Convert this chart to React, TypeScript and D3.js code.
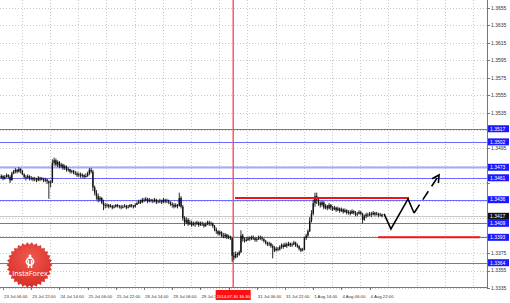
import React from "react";
import * as d3 from "d3";

// Prices in pips above 1.3300 (H1 bars starting 23 Jul 04:00)
const firstOpen = 162;
const closes = [
  161,163,160,162,164,162,158,166,168,170,
  168,171,169,165,162,161,163,160,161,159,
  160,158,161,159,160,158,159,157,155,156,
  178,181,176,179,174,176,172,174,170,171,
  168,169,167,166,164,165,163,164,162,163,
  166,170,168,150,144,140,136,138,133,130,
  129,130,128,129,127,128,130,129,128,127,
  128,129,127,128,130,129,128,130,132,134,
  133,136,135,137,134,136,135,134,136,133,
  134,135,133,136,134,135,133,131,130,128,
  130,129,138,128,115,110,113,108,110,107,
  109,108,110,107,109,108,106,108,110,108,
  109,106,102,100,97,99,95,94,96,93,
  94,92,72,70,74,73,76,95,91,89,
  90,92,91,93,92,90,91,93,92,91,
  89,87,85,86,83,81,78,80,79,82,
  84,82,85,83,86,84,85,87,84,83,
  80,78,79,92,95,100,112,120,132,140,
  136,132,130,133,127,129,126,130,127,125,
  127,124,126,123,125,122,124,121,122,120,
  123,121,119,120,122,120,113,117,119,118,
  120,119,121,119,120,118,119,117,
];
const highs = [
  164,165,164,164,166,165,164,168,170,172,
  171,173,172,170,166,164,165,164,163,162,
  162,161,163,162,162,161,161,160,158,158,
  182,184,183,181,180,178,177,176,175,173,
  171,170,170,169,168,167,167,166,165,166,
  168,172,172,170,152,147,143,140,139,136,
  132,132,131,131,130,130,131,131,130,130,
  130,131,130,130,131,131,130,132,134,136,
  136,138,138,139,138,138,137,137,138,137,
  136,137,136,138,137,137,136,134,133,132,
  132,131,144,140,130,117,116,115,113,112,
  111,111,112,111,111,111,110,110,112,112,
  111,110,107,104,101,101,100,98,98,97,
  96,95,93,76,77,76,78,101,97,93,
  93,94,94,95,95,93,93,95,95,94,
  92,90,88,88,87,85,83,82,82,84,
  86,86,87,87,88,87,87,89,88,86,
  84,81,81,94,97,102,116,124,136,144,
  144,138,134,135,134,131,130,132,131,129,
  129,128,128,127,127,126,126,125,124,124,
  125,124,123,122,124,123,121,119,121,121,
  122,122,123,122,122,121,121,120,
];
const lows = [
  159,160,158,159,161,160,155,158,165,166,
  166,167,166,164,160,158,160,158,158,157,
  157,156,157,157,158,156,156,154,137,150,
  155,175,174,173,172,172,170,170,168,168,
  166,166,165,164,162,162,161,161,160,161,
  162,164,166,146,141,136,133,134,131,124,
  126,127,126,127,125,126,127,127,126,125,
  126,127,125,126,127,127,126,127,130,131,
  131,132,133,134,132,133,133,132,133,131,
  132,132,131,132,132,132,131,129,127,126,
  127,126,128,126,112,106,108,106,107,105,
  106,105,107,105,106,106,104,105,107,106,
  106,104,100,97,95,95,93,92,92,91,
  91,90,65,67,69,70,72,75,88,87,
  88,89,89,90,90,88,88,90,90,89,
  87,85,83,83,81,69,76,77,77,78,
  80,80,82,81,83,82,82,84,82,81,
  78,76,77,78,90,93,99,110,118,128,
  131,129,127,128,125,125,124,125,124,123,
  124,122,123,121,122,120,121,119,119,118,
  120,119,117,117,119,118,109,112,115,116,
  117,116,118,117,118,116,117,116,
];

const timeLabels = [
  "23 Jul 06:00","23 Jul 22:00","24 Jul 14:00","25 Jul 06:00","25 Jul 22:00",
  "28 Jul 14:00","29 Jul 06:00","29 Jul 22:00","30 Jul 14:00","31 Jul 06:00",
  "31 Jul 22:00","1 Aug 14:00","4 Aug 06:00","4 Aug 22:00",
];
const labelBars = [2,18,34,50,66,82,98,114,130,146,162,178,194,210];
const gridBars = [12.6,28.6,44.6,60.6,76.6,92.6,108.6,124.6,140.6,156.6,172.6,188.6,204.6,220.6,236.6,252.6,268.6];
const priceTicks = [1.3335,1.3355,1.3375,1.3395,1.3415,1.3435,1.3455,1.3475,1.3495,1.3515,1.3535,1.3555,1.3575,1.3595,1.3615,1.3635,1.3655];
const levels = [1.3517,1.3502,1.3473,1.3461,1.3436,1.3409,1.3393,1.3364];
const redLevelPrices = [1.3438,1.3393];
const redLevelFrom = [133.6,214.8];
const redLevelTo = [232.3,272.6];
const forecastSolid: [number, number][] = [[218.2,1.34197],[222.1,1.34025],[231.8,1.34368],[235.2,1.34208]];
const forecastDashed: [number, number][] = [[235.2,1.34208],[249.4,1.34642]];
const crossBar = 132.6;
const crossLabel = "2014.07.30 16:30";
const bidPrice = 1.3417;

const W = 510, H = 303;
const PR = 487, PB = 287;

export default function App() {
  const x = d3.scaleLinear().domain([0, 276.6]).range([-0.5, PR]);
  const y = d3.scaleLinear().domain([1.3334, 1.3664]).range([289, 0]);
  const pp = (p: number) => y(1.33 + p / 10000);
  const font = "'Liberation Sans', Arial, sans-serif";
  const line = d3.line<[number, number]>().x(d => x(d[0])).y(d => y(d[1]));

  const candles = closes.map((c, i) => {
    const o = i === 0 ? firstOpen : closes[i - 1];
    const hi = Math.max(highs[i], o, c);
    const lo = Math.min(lows[i], o, c);
    return { i, o, c, hi, lo };
  });

  const boxes = [...levels, bidPrice];
  const visibleTicks = priceTicks.filter(t => boxes.every(b => Math.abs(y(t) - y(b)) > 6));

  const [ax0, ay0] = [x(forecastDashed[0][0]), y(forecastDashed[0][1])];
  const [ax1, ay1] = [x(forecastDashed[1][0]), y(forecastDashed[1][1])];
  const ang = Math.atan2(ay1 - ay0, ax1 - ax0);
  const hl = 8;
  const arm1 = [ax1 - hl * Math.cos(ang - 0.5), ay1 - hl * Math.sin(ang - 0.5)];
  const arm2 = [ax1 - hl * Math.cos(ang + 0.5), ay1 - hl * Math.sin(ang + 0.5)];

  const cx = 29.5, cy = 265, teeth = 30;
  const gearPts: string[] = [];
  for (let k = 0; k < teeth * 2; k++) {
    const a = (Math.PI * k) / teeth;
    const r = k % 2 === 0 ? 23 : 20.5;
    gearPts.push(`${cx + r * Math.cos(a)},${cy + r * Math.sin(a)}`);
  }

  const crossX = x(crossBar);
  const boxL = crossX - 17.5;

  return (
    <svg width={W} height={H} style={{ position: "absolute", left: 0, top: 0, background: "#fff" }}>
      <defs>
        <radialGradient id="lg" cx="50%" cy="35%" r="70%">
          <stop offset="0%" stopColor="#f05a4f" />
          <stop offset="100%" stopColor="#d42a25" />
        </radialGradient>
        <clipPath id="xclip">
          <rect x={0} y={288} width={boxL} height={15} />
          <rect x={boxL + 35} y={288} width={W} height={15} />
        </clipPath>
      </defs>
      <rect x={0} y={0} width={W} height={H} fill="#fff" />
      {priceTicks.map(t => (
        <line key={"hg" + t} x1={0} x2={PR} y1={Math.round(y(t)) + 0.5} y2={Math.round(y(t)) + 0.5}
          stroke="#c8c8c8" strokeDasharray="1,2" />
      ))}
      {gridBars.map(b => (
        <line key={"vg" + b} x1={Math.round(x(b)) + 0.5} x2={Math.round(x(b)) + 0.5} y1={0} y2={PB}
          stroke="#c8c8c8" strokeDasharray="1,2" />
      ))}
      {levels.map((l, k) => (
        <line key={"bl" + l} x1={0} x2={PR} y1={Math.round(y(l)) + 0.5} y2={Math.round(y(l)) + 0.5}
          stroke={k === 2 ? "#a8a8ff" : "#6a6aff"} strokeWidth={k === 2 ? 2 : 1} />
      ))}
      <line x1={0} x2={PR} y1={Math.round(y(bidPrice)) + 0.5} y2={Math.round(y(bidPrice)) + 0.5} stroke="#c9c9c9" />
      <line x1={crossX} x2={crossX} y1={0} y2={PB} stroke="#f45050" strokeWidth={1.4} />
      {candles.map(d => (
        <g key={d.i}>
          <line x1={x(d.i)} x2={x(d.i)} y1={pp(d.hi)} y2={pp(d.lo)} stroke="#111" strokeWidth={0.9} />
          <rect x={x(d.i) - 0.7} width={1.4} y={pp(Math.max(d.o, d.c))}
            height={Math.max(0.8, pp(Math.min(d.o, d.c)) - pp(Math.max(d.o, d.c)))} fill="#111" />
        </g>
      ))}
      {redLevelPrices.map((p, k) => (
        <line key={"rl" + k} x1={x(redLevelFrom[k])} x2={x(redLevelTo[k])} y1={y(p)} y2={y(p)}
          stroke="#f01515" strokeWidth={2} />
      ))}
      <path d={line(forecastSolid) || ""} fill="none" stroke="#000" strokeWidth={1.6} strokeLinejoin="miter" />
      <path d={line(forecastDashed) || ""} fill="none" stroke="#000" strokeWidth={1.6} strokeDasharray="10,6" />
      <polyline points={`${arm1[0]},${arm1[1]} ${ax1},${ay1} ${arm2[0]},${arm2[1]}`} fill="none" stroke="#000" strokeWidth={1.6} />
      <line x1={PR + 0.5} x2={PR + 0.5} y1={0} y2={PB + 1} stroke="#777" />
      <line x1={0} x2={PR + 1} y1={PB + 0.5} y2={PB + 0.5} stroke="#777" />
      {priceTicks.map(t => (
        <line key={"ytk" + t} x1={PR} x2={PR + 3} y1={Math.round(y(t)) + 0.5} y2={Math.round(y(t)) + 0.5} stroke="#777" />
      ))}
      {visibleTicks.map(t => (
        <text key={"yt" + t} x={PR + 4} y={y(t) + 1.8} fontSize={5} fill="#333" fontFamily={font}>{t.toFixed(4)}</text>
      ))}
      {levels.map(l => (
        <g key={"lb" + l}>
          <rect x={PR + 1} y={y(l) - 3.5} width={21} height={7} fill="#1a1aff" />
          <text x={PR + 3} y={y(l) + 1.8} fontSize={5} fill="#fff" fontFamily={font}>{l.toFixed(4)}</text>
        </g>
      ))}
      <rect x={PR + 1} y={y(bidPrice) - 3.5} width={21} height={7} fill="#111" />
      <text x={PR + 3} y={y(bidPrice) + 1.8} fontSize={5} fill="#fff" fontFamily={font}>{bidPrice.toFixed(4)}</text>
      {labelBars.map(b => (
        <line key={"xtk" + b} x1={Math.round(x(b)) + 0.5} x2={Math.round(x(b)) + 0.5} y1={PB} y2={PB + 3} stroke="#777" />
      ))}
      <g clipPath="url(#xclip)">
        {labelBars.map((b, k) => (
          x(b) > boxL - 2 && x(b) < boxL + 35 ? null :
          <text key={"xt" + b} x={x(b) + 1} y={298} fontSize={4.3} fill="#333" fontFamily={font}>{timeLabels[k]}</text>
        ))}
      </g>
      <rect x={boxL} y={290} width={35} height={10} fill="#ff1010" />
      <text x={crossX} y={297.5} fontSize={4.3} fill="#fff" textAnchor="middle" fontFamily={font}>{crossLabel}</text>
      <polygon points={gearPts.join(" ")} fill="url(#lg)" />
      <circle cx={cx + 0.5} cy={cy - 3.5} r={3.6} fill="none" stroke="#fff" strokeWidth={1.6} />
      <rect x={cx - 1.8} y={cy - 5} width={1.5} height={8} fill="#fff" />
      <rect x={cx + 1.3} y={cy - 5} width={1.5} height={8} fill="#fff" />
      <circle cx={cx + 0.5} cy={cy - 9} r={1.4} fill="#fff" />
      <text x={cx + 0.5} y={cy + 11} fontSize={7.3} fill="#fff" textAnchor="middle" fontFamily="'Open Sans', Arial, sans-serif">InstaForex</text>
    </svg>
  );
}
